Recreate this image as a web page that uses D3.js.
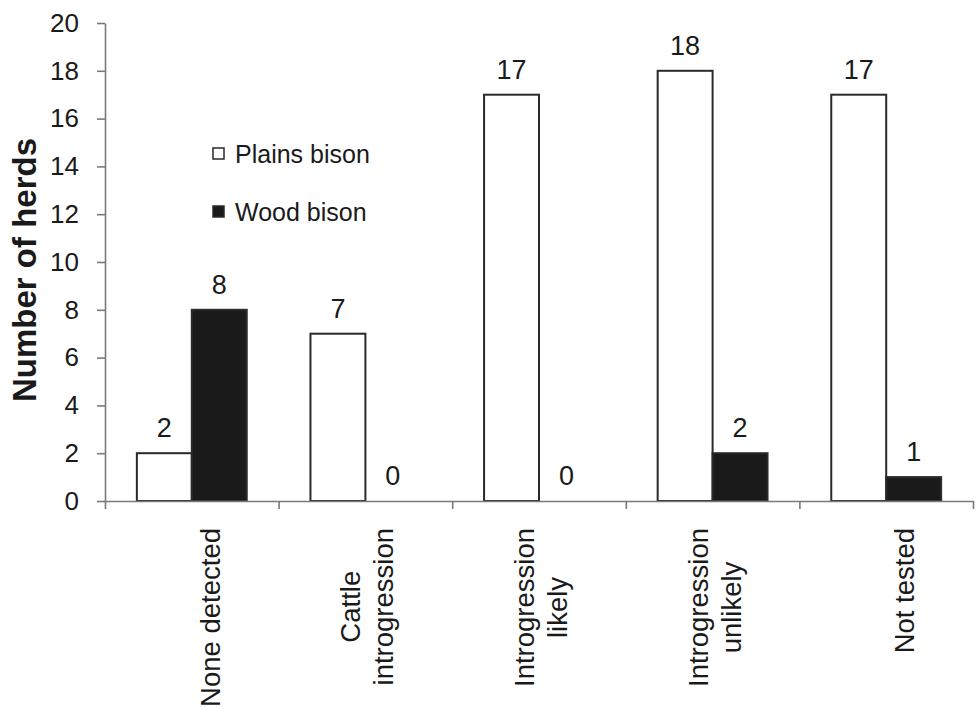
<!DOCTYPE html>
<html>
<head>
<meta charset="utf-8">
<script src="https://cdn.jsdelivr.net/npm/d3@7"></script>
<style>
  body { margin: 0; background: #fff; }
  svg { display: block; font-family: Arial, "Liberation Sans", sans-serif; }
</style>
</head>
<body>
<svg width="980" height="707"></svg>
<script>
// data
var categories = ["None detected", "Cattle introgression", "Introgression likely", "Introgression unlikely", "Not tested"];
var categoryLines = [["None detected"], ["Cattle", "introgression"], ["Introgression", "likely"], ["Introgression", "unlikely"], ["Not tested"]];
var seriesNames = ["Plains bison", "Wood bison"];
var plains = [2, 7, 17, 18, 17];
var wood = [8, 0, 0, 2, 1];
var yTicks = [0, 2, 4, 6, 8, 10, 12, 14, 16, 18, 20];

(function(){
  var svg = d3.select("svg"),
      left = 105, right = 973, top = 23, bottom = 501;

  var x = d3.scaleBand().domain(categories).range([left, right]).padding(0);
  var xs = d3.scaleBand().domain(seriesNames).range([0, x.bandwidth()]).paddingInner(0).paddingOuter(0.58);
  var y = d3.scaleLinear().domain([0, 20]).range([bottom, top]);
  var edges = d3.scaleLinear().domain([0, categories.length]).range([left, right]);

  var fills = {"Plains bison": "#fff", "Wood bison": "#1a1a1a"};

  var rows = categories.map(function(c, i){
    return {cat: c, vals: [{s: "Plains bison", v: plains[i]}, {s: "Wood bison", v: wood[i]}]};
  });

  // bars
  var grp = svg.selectAll("g.cat").data(rows).enter().append("g")
    .attr("class", "cat")
    .attr("transform", function(d){ return "translate(" + x(d.cat) + ",0)"; });

  grp.selectAll("rect").data(function(d){ return d.vals.filter(function(e){ return e.v > 0; }); })
    .enter().append("rect")
    .attr("x", function(d){ return xs(d.s); })
    .attr("y", function(d){ return y(d.v); })
    .attr("width", xs.bandwidth())
    .attr("height", function(d){ return y(0) - y(d.v); })
    .attr("fill", function(d){ return fills[d.s]; })
    .attr("stroke", "#2a2a2a")
    .attr("stroke-width", 2);

  // value labels
  grp.selectAll("text.val").data(function(d){ return d.vals; })
    .enter().append("text")
    .attr("class", "val")
    .attr("x", function(d){ return xs(d.s) + xs.bandwidth() / 2; })
    .attr("y", function(d){ return y(d.v) - 16; })
    .attr("text-anchor", "middle")
    .attr("font-size", 27)
    .attr("fill", "#1a1a1a")
    .text(function(d){ return d.v; });

  // y axis
  var yAxis = svg.append("g")
    .attr("transform", "translate(" + left + ",0)")
    .call(d3.axisLeft(y).tickValues(yTicks).tickSizeInner(8).tickSizeOuter(0).tickPadding(18));
  yAxis.select(".domain").attr("stroke", "#7a7a7a").attr("stroke-width", 1.6);
  yAxis.selectAll(".tick line").attr("stroke", "#7a7a7a").attr("stroke-width", 1.6);
  yAxis.selectAll(".tick text").attr("font-size", 26).attr("fill", "#1a1a1a")
    .attr("font-family", "Arial, 'Liberation Sans', sans-serif");

  // x axis with ticks between categories
  var xAxis = svg.append("g")
    .attr("transform", "translate(0," + bottom + ")")
    .call(d3.axisBottom(edges).ticks(categories.length).tickFormat("").tickSizeInner(8).tickSizeOuter(0));
  xAxis.select(".domain").attr("stroke", "#7a7a7a").attr("stroke-width", 1.6);
  xAxis.selectAll(".tick line").attr("stroke", "#7a7a7a").attr("stroke-width", 1.6);

  // rotated category labels, lines centred on each other, block starting just under the axis
  categories.forEach(function(c, i){
    var lines = categoryLines[i];
    var cx = x(c) + x.bandwidth() / 2;
    var g = svg.append("g");
    var texts = lines.map(function(l, j){
      return g.append("text")
        .attr("text-anchor", "middle")
        .attr("font-size", 27.5)
        .attr("fill", "#1a1a1a")
        .attr("y", (j - (lines.length - 1)) * 33)
        .text(l);
    });
    var maxLen = d3.max(texts, function(t){ return t.node().getComputedTextLength(); });
    g.attr("transform", "translate(" + (cx + 28) + "," + (528 + maxLen / 2) + ") rotate(-90)");
  });

  // y title
  svg.append("text")
    .attr("transform", "translate(36,270) rotate(-90)")
    .attr("text-anchor", "middle")
    .attr("font-size", 33)
    .attr("font-weight", "bold")
    .attr("fill", "#1a1a1a")
    .text("Number of herds");

  // legend
  var legend = svg.selectAll("g.leg").data(seriesNames).enter().append("g")
    .attr("class", "leg")
    .attr("transform", function(d, i){ return "translate(213," + (148 + i * 58) + ")"; });
  legend.append("rect")
    .attr("width", 11).attr("height", 11)
    .attr("fill", function(d){ return fills[d]; })
    .attr("stroke", "#2a2a2a").attr("stroke-width", 1.5);
  legend.append("text")
    .attr("x", 22).attr("y", 15)
    .attr("font-size", 25)
    .attr("fill", "#1a1a1a")
    .text(function(d){ return d; });
}());
</script>
</body>
</html>
